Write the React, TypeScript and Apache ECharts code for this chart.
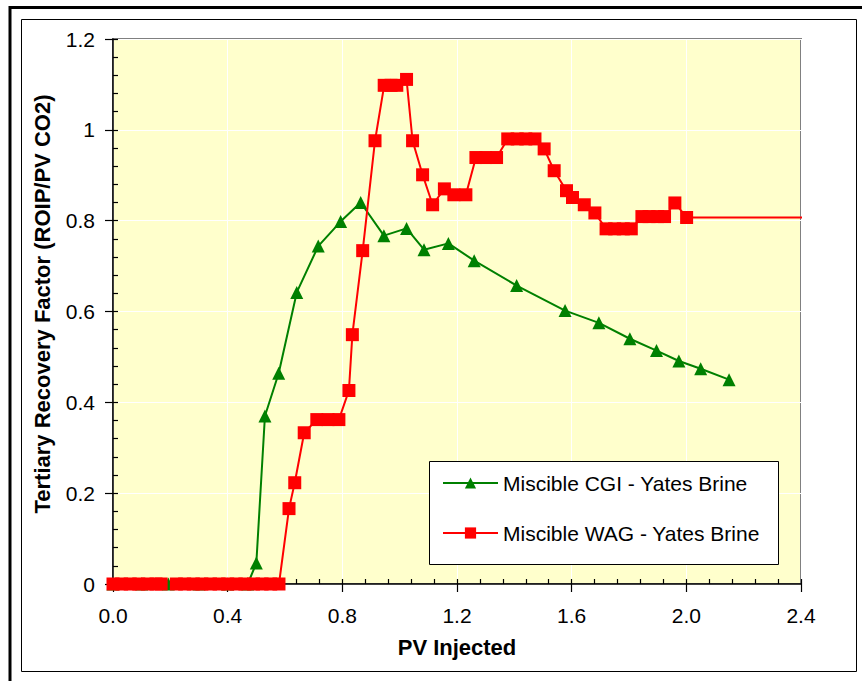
import React, { useEffect, useRef } from "react";
import * as echarts from "echarts";

const FONT = "'Liberation Sans', Arial, sans-serif";

// X tick labels (PV Injected) and Y tick labels
const xTicks = [0, 0.4, 0.8, 1.2, 1.6, 2.0, 2.4];
const yTicks = [0, 0.2, 0.4, 0.6, 0.8, 1.0, 1.2];

// Miscible CGI - Yates Brine
const cgiX = [0, 0.1, 0.193, 0.3, 0.4, 0.47, 0.5, 0.53, 0.578, 0.641, 0.716, 0.794, 0.864, 0.945, 1.024, 1.085, 1.17, 1.26, 1.408, 1.577, 1.695, 1.803, 1.896, 1.974, 2.05, 2.149];
const cgiY = [0, 0, 0, 0, 0, 0, 0.046, 0.37, 0.464, 0.642, 0.744, 0.798, 0.84, 0.767, 0.783, 0.736, 0.75, 0.712, 0.657, 0.602, 0.575, 0.54, 0.514, 0.491, 0.474, 0.45];

// Miscible WAG - Yates Brine (null = gap in the curve)
const wagX = [0, 0.03, 0.06, 0.09, 0.12, 0.15, 0.168, 0.195, 0.221, 0.25, 0.28, 0.31, 0.34, 0.37, 0.4, 0.43, 0.46, 0.49, 0.52, 0.55, 0.579,
  0.614, 0.634, 0.667, 0.711, 0.75, 0.788, 0.823, 0.835, 0.871, 0.914, 0.946, 0.97, 0.99, 1.024, 1.045, 1.08, 1.115, 1.156, 1.189, 1.231,
  1.266, 1.3, 1.338, 1.377, 1.41, 1.44, 1.472, 1.504, 1.539, 1.582, 1.603, 1.644, 1.681, 1.72, 1.75, 1.78, 1.808, 1.845, 1.87, 1.9, 1.924,
  1.96, 2.001, 2.425];
const wagY: (number | null)[] = [0, 0, 0, 0, 0, 0, 0, null, 0, 0, 0, 0, 0, 0, 0, 0, 0, 0, 0, 0, 0,
  0.166, 0.223, 0.333, 0.362, 0.362, 0.362, 0.426, 0.549, 0.734, 0.976, 1.098, 1.098, 1.098, 1.111, 0.976, 0.901, 0.835, 0.87, 0.857, 0.857,
  0.939, 0.939, 0.939, 0.98, 0.98, 0.98, 0.98, 0.958, 0.91, 0.866, 0.851, 0.835, 0.817, 0.782, 0.782, 0.782, 0.782, 0.809, 0.809, 0.809, 0.809,
  0.839, 0.807, 0.807];

const GRID = { left: 113, top: 39, width: 688, height: 545 };

export default function App() {
  const ref = useRef<HTMLDivElement>(null);
  useEffect(() => {
    if (!ref.current) return;
    const chart = echarts.init(ref.current, null, { renderer: "svg" });
    const xMin = xTicks[0], xMax = xTicks[xTicks.length - 1];
    const yMin = yTicks[0], yMax = yTicks[yTicks.length - 1];
    const xInt = xTicks[1] - xTicks[0];
    const yInt = yTicks[1] - yTicks[0];

    const cgiData = cgiX.map((x, i) => [x, cgiY[i]]);
    const wagData = wagX.map((x, i) => {
      const y = wagY[i];
      if (y === null) return [x, "-"];
      if (i === wagX.length - 1) return { value: [x, y], symbol: "none" };
      return [x, y];
    });

    const labelStyle = { color: "#000", fontFamily: FONT, fontSize: 21 };

    chart.setOption({
      animation: false,
      backgroundColor: "#fff",
      grid: {
        ...GRID,
        show: true,
        backgroundColor: "#FFFFCC",
        borderColor: "#808080",
        borderWidth: 2,
      },
      xAxis: [
        {
          type: "value", min: xMin, max: xMax, interval: xInt, position: "bottom",
          axisLine: { show: true, onZero: false, lineStyle: { color: "#000", width: 1.5 } },
          axisTick: { show: true, inside: false, length: 8, lineStyle: { color: "#000", width: 1.2 } },
          minorTick: { show: false },
          axisLabel: { ...labelStyle, margin: 21, formatter: (v: number) => v.toFixed(1) },
          splitLine: { show: true, lineStyle: { color: "#ffffff", width: 1 } },
        },
        {
          type: "value", min: xMin, max: xMax, interval: xInt, position: "bottom",
          axisLine: { show: false, onZero: false },
          axisTick: { show: true, inside: true, length: 5, lineStyle: { color: "#000", width: 1.2 } },
          minorTick: { show: true, splitNumber: 5, length: 5, lineStyle: { color: "#000", width: 1.2 } },
          axisLabel: { show: false },
          splitLine: { show: false },
        },
      ],
      yAxis: [
        {
          type: "value", min: yMin, max: yMax, interval: yInt, position: "left",
          axisLine: { show: true, onZero: false, lineStyle: { color: "#000", width: 1.5 } },
          axisTick: { show: true, inside: false, length: 8, lineStyle: { color: "#000", width: 1.2 } },
          minorTick: { show: false },
          axisLabel: { ...labelStyle, margin: 18 },
          splitLine: { show: true, lineStyle: { color: "#ffffff", width: 1 } },
        },
        {
          type: "value", min: yMin, max: yMax, interval: yInt, position: "left",
          axisLine: { show: false, onZero: false },
          axisTick: { show: true, inside: true, length: 5, lineStyle: { color: "#000", width: 1.2 } },
          minorTick: { show: true, splitNumber: 5, length: 5, lineStyle: { color: "#000", width: 1.2 } },
          axisLabel: { show: false },
          splitLine: { show: false },
        },
      ],
      legend: {
        orient: "vertical",
        left: 442,
        top: 471,
        padding: 0,
        itemWidth: 55,
        itemHeight: 14,
        itemGap: 26,
        textStyle: { color: "#000", fontFamily: FONT, fontSize: 21, lineHeight: 24 },
        data: ["Miscible CGI - Yates Brine", "Miscible WAG - Yates Brine"],
        z: 10,
      },
      series: [
        {
          name: "Miscible CGI - Yates Brine",
          type: "line",
          xAxisIndex: 0, yAxisIndex: 0,
          data: cgiData,
          symbol: "triangle",
          symbolSize: 13,
          showAllSymbol: true,
          color: "#008000",
          lineStyle: { color: "#008000", width: 2 },
          itemStyle: { color: "#008000" },
          z: 2,
        },
        {
          name: "Miscible WAG - Yates Brine",
          type: "line",
          xAxisIndex: 0, yAxisIndex: 0,
          data: wagData,
          symbol: "rect",
          symbolSize: 13,
          showAllSymbol: true,
          clip: false,
          connectNulls: false,
          color: "#FF0000",
          lineStyle: { color: "#FF0000", width: 2 },
          itemStyle: { color: "#FF0000" },
          z: 3,
        },
      ],
      graphic: [
        { type: "rect", z: 0, silent: true, shape: { x: 10, y: 7.5, width: 1000, height: 1000 }, style: { fill: "none", stroke: "#000", lineWidth: 3 } },
        { type: "rect", z: 0, silent: true, shape: { x: 21.5, y: 19.5, width: 835, height: 652 }, style: { fill: "none", stroke: "#000", lineWidth: 1 } },
        { type: "rect", z: 5, silent: true, shape: { x: 429.5, y: 461.5, width: 349, height: 103 }, style: { fill: "#fff", stroke: "#000", lineWidth: 1 } },
        {
          type: "text", z: 5, silent: true, x: 457, y: 647,
          style: { text: "PV Injected", font: `bold 22px ${FONT}`, fill: "#000", align: "center", verticalAlign: "middle" },
        },
        {
          type: "text", z: 5, silent: true, x: 42, y: 304, rotation: Math.PI / 2,
          style: { text: "Tertiary Recovery Factor (ROIP/PV CO2)", font: `bold 22px ${FONT}`, fill: "#000", align: "center", verticalAlign: "middle" },
        },
      ],
    });
    return () => chart.dispose();
  }, []);
  return <div ref={ref} style={{ position: "absolute", left: 0, top: 0, width: 862, height: 681 }} />;
}
